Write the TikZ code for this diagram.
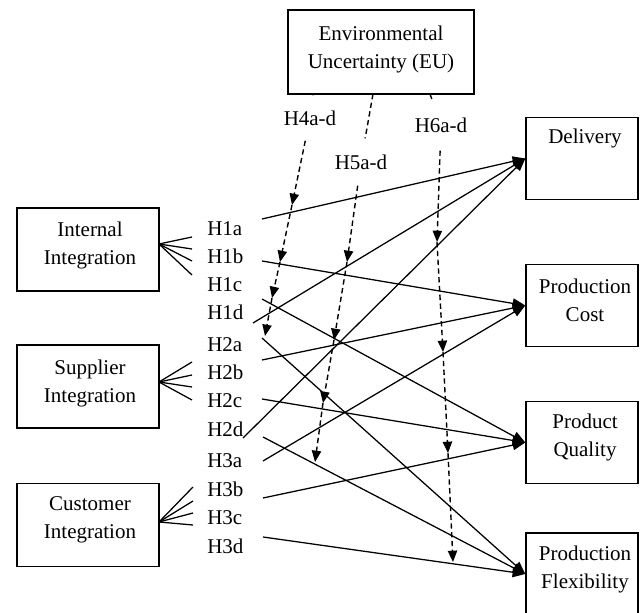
\documentclass[tikz,border=0pt]{standalone}
\usepackage{fontspec}
\setmainfont{Liberation Serif}
\usetikzlibrary{arrows.meta}
\begin{document}
\begin{tikzpicture}[x=0.75pt,y=-0.75pt,
  lbox/.style={draw,line width=1.1pt,minimum width=106.5pt,minimum height=62.25pt,inner sep=0pt},
  rbox/.style={draw,line width=1.1pt,minimum width=84pt,minimum height=61.5pt,inner sep=0pt},
  eubox/.style={draw,line width=1.1pt,minimum width=139.5pt,minimum height=63pt,inner sep=0pt},
  txt/.style={align=center,font=\fontsize{15.75}{21}\selectfont,inner sep=0pt},
  hl/.style={anchor=base west,font=\fontsize{15.75}{21}\selectfont,inner sep=0pt},
  hyp/.style={font=\fontsize{15.75}{21}\selectfont,inner xsep=1pt},
  conn/.style={line width=0.95pt,-{Triangle[length=9.5pt,width=7.5pt]}},
  fanline/.style={line width=0.95pt},
  moddash/.style={line width=1.05pt,dash pattern=on 4pt off 2.6pt},
  mod/.style={moddash,-{Triangle[length=8.5pt,width=7pt]}}
]
\useasboundingbox (0,0) rectangle (640,613);
\clip (0,0) rectangle (640,613);

% boxes
\node[eubox] (EU) at (381,52) {};
\node[txt] (EUt) at (381,49) {Environmental\\Uncertainty (EU)};

\node[lbox] (II) at (88,249.5) {};
\node[txt] (IIt) at (90,245) {Internal\\Integration};
\node[lbox] (SI) at (88,386.5) {};
\node[txt] (SIt) at (90,383) {Supplier\\Integration};
\node[lbox] (CI) at (88,525) {};
\node[txt] (CIt) at (90,520) {Customer\\Integration};

\node[rbox] (DE) at (582,158.5) {};
\node[txt] (DEt) at (585,138) {Delivery};
\node[rbox] (PC) at (582,305.5) {};
\node[txt] (PCt) at (585,300) {Production\\Cost};
\node[rbox] (PQ) at (582,442.5) {};
\node[txt] (PQt) at (585,437) {Product\\Quality};
\node[rbox] (PF) at (582,574) {};
\node[txt] (PFt) at (585,569) {Production\\Flexibility};

% hypothesis labels
\node[hl] (H1a) at (207,236) {H1a};
\node[hl] (H1b) at (207,264) {H1b};
\node[hl] (H1c) at (207,292) {H1c};
\node[hl] (H1d) at (207,320) {H1d};
\node[hl] (H2a) at (207,352) {H2a};
\node[hl] (H2b) at (207,380) {H2b};
\node[hl] (H2c) at (207,407) {H2c};
\node[hl] (H2d) at (207,436) {H2d};
\node[hl] (H3a) at (207,468) {H3a};
\node[hl] (H3b) at (207,496) {H3b};
\node[hl] (H3c) at (207,524) {H3c};
\node[hl] (H3d) at (207,553) {H3d};

% fans
\coordinate (fo1) at (159,244);
\coordinate (fo2) at (159,382);
\coordinate (fo3) at (159,522);
\foreach \y [count=\i] in {237,249,261,275} {\coordinate (fa\i) at (192,\y); \draw[fanline] (fo1) -- (fa\i);}
\foreach \y [count=\i] in {362,375,387,400} {\coordinate (fb\i) at (192,\y); \draw[fanline] (fo2) -- (fb\i);}
\foreach \y [count=\i] in {487,501,513,525} {\coordinate (fc\i) at (193,\y); \draw[fanline] (fo3) -- (fc\i);}

% solid hypothesis paths
\coordinate (s1) at (262,219);
\coordinate (s2) at (262,261);
\coordinate (s3) at (262,299);
\coordinate (s4) at (253,323);
\coordinate (s5) at (262,338);
\coordinate (s6) at (262,360);
\coordinate (s7) at (262,399);
\coordinate (s8) at (243,438);
\coordinate (s9) at (263,437);
\coordinate (s10) at (263,461);
\coordinate (s11) at (263,498);
\coordinate (s12) at (263,537);
\draw[conn] (s1) -- (DE.west);
\draw[conn] (s4) -- (DE.west);
\draw[conn] (s8) -- (DE.west);
\draw[conn] (s2) -- (PC.west);
\draw[conn] (s6) -- (PC.west);
\draw[conn] (s10) -- (PC.west);
\draw[conn] (s3) -- (PQ.west);
\draw[conn] (s7) -- (PQ.west);
\draw[conn] (s11) -- (PQ.west);
\draw[conn] (s5) -- (PF.west);
\draw[conn] (s9) -- (PF.west);
\draw[conn] (s12) -- (PF.west);

% moderating paths
\coordinate (e4) at (313,94);
\coordinate (e5) at (373,94);
\coordinate (e6) at (430,94);
\node[hyp,inner ysep=11.3pt] (L4) at (310,118) {H4a-d};
\node[hyp,inner ysep=12pt] (L5) at (361,162) {H5a-d};
\node[hyp,inner ysep=13.5pt] (L6) at (441,125) {H6a-d};

\coordinate (t4a) at (292,205);
\coordinate (t4b) at (280,262);
\coordinate (t4c) at (272,298);
\coordinate (t4d) at (265,336);
\coordinate (t5a) at (347,262);
\coordinate (t5b) at (334,340);
\coordinate (t5c) at (323,403);
\coordinate (t5d) at (315,462);
\coordinate (t6a) at (437,242);
\coordinate (t6b) at (443,352);
\coordinate (t6c) at (448,453);
\coordinate (t6d) at (453,562);

\draw[moddash] (e4) -- (L4);
\draw[mod] (L4) -- (t4a);
\draw[mod] (t4a) -- (t4b);
\draw[mod] (t4b) -- (t4c);
\draw[mod] (t4c) -- (t4d);

\draw[moddash] (e5) -- (L5);
\draw[mod] (L5) -- (t5a);
\draw[mod] (t5a) -- (t5b);
\draw[mod] (t5b) -- (t5c);
\draw[mod] (t5c) -- (t5d);

\draw[moddash] (e6) -- (L6);
\draw[mod] (L6) -- (t6a);
\draw[mod] (t6a) -- (t6b);
\draw[mod] (t6b) -- (t6c);
\draw[mod] (t6c) -- (t6d);
\end{tikzpicture}
\end{document}
